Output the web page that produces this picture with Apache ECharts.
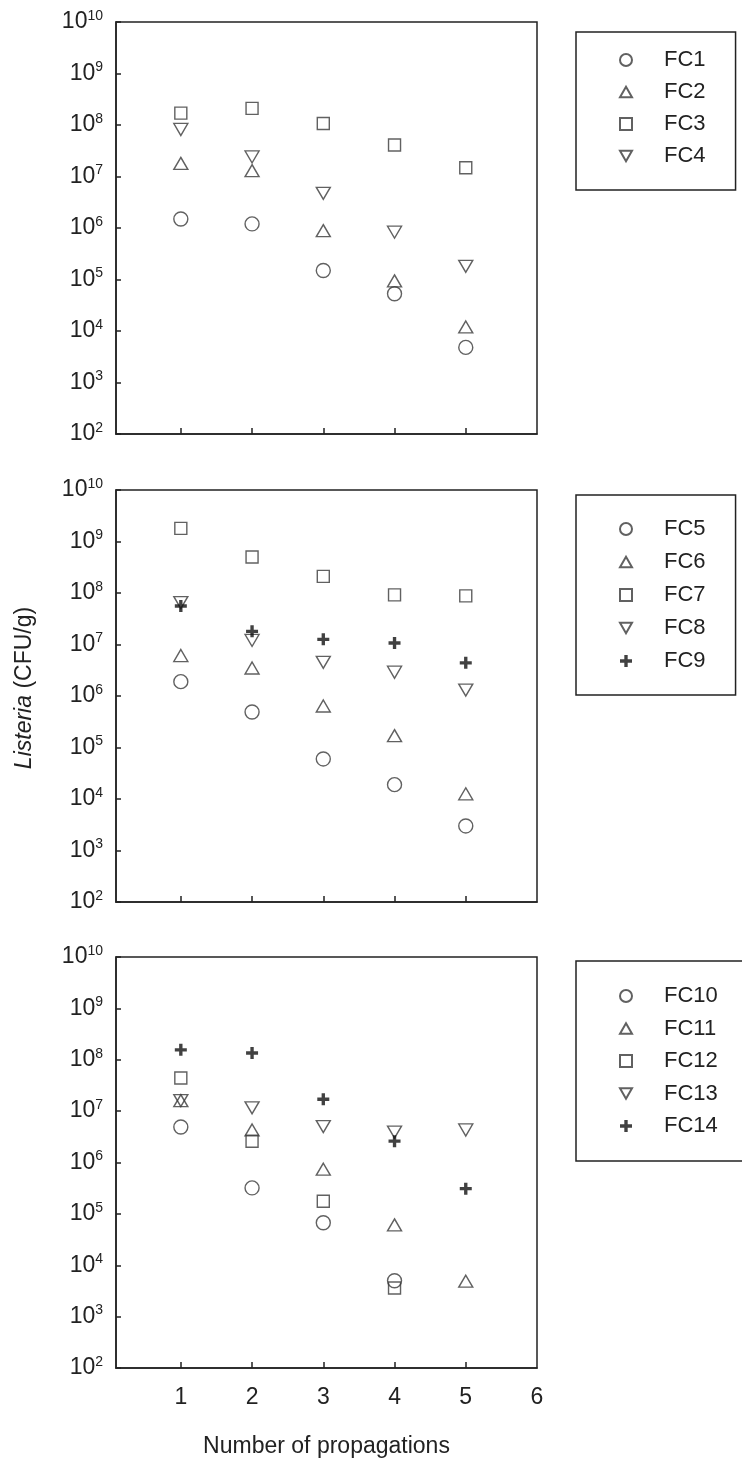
<!DOCTYPE html>
<html>
<head>
<meta charset="utf-8">
<script src="https://cdn.jsdelivr.net/npm/echarts@6/dist/echarts.min.js"></script>
<style>
html,body{margin:0;padding:0;background:#fff;}
#c{width:742px;height:1459px;}
</style>
</head>
<body>
<div id="c"></div>
<script>
// x positions (number of propagations)
const propagations = [1, 2, 3, 4, 5];
const xTickLabels = [1, 2, 3, 4, 5, 6];
// Panel 1
const fc1 = [1.5e6, 1.2e6, 1.5e5, 5.3e4, 4.8e3];
const fc2 = [1.8e7, 1.3e7, 8.9e5, 9.4e4, 1.2e4];
const fc3 = [1.7e8, 2.1e8, 1.07e8, 4.1e7, 1.48e7];
const fc4 = [8.2e7, 2.4e7, 4.7e6, 8.3e5, 1.8e5];
// Panel 2
const fc5 = [1.9e6, 4.9e5, 6.0e4, 1.9e4, 3.0e3];
const fc6 = [6.1e6, 3.5e6, 6.4e5, 1.7e5, 1.26e4];
const fc7 = [1.8e9, 5.0e8, 2.1e8, 9.2e7, 8.8e7];
const fc8 = [6.5e7, 1.2e7, 4.5e6, 2.9e6, 1.3e6];
const fc9 = [5.6e7, 1.8e7, 1.26e7, 1.07e7, 4.4e6];
// Panel 3
const fc10 = [4.9e6, 3.2e5, 6.7e4, 5.0e3, null];
const fc11 = [1.6e7, 4.3e6, 7.4e5, 6.1e4, 4.9e3];
const fc12 = [4.4e7, 2.6e6, 1.76e5, 3.6e3, null];
const fc13 = [1.6e7, 1.16e7, 5.0e6, 3.9e6, 4.3e6];
const fc14 = [1.56e8, 1.35e8, 1.7e7, 2.6e6, 3.1e5];

const panels = [
  {names: ['FC1', 'FC2', 'FC3', 'FC4'], values: [fc1, fc2, fc3, fc4]},
  {names: ['FC5', 'FC6', 'FC7', 'FC8', 'FC9'], values: [fc5, fc6, fc7, fc8, fc9]},
  {names: ['FC10', 'FC11', 'FC12', 'FC13', 'FC14'], values: [fc10, fc11, fc12, fc13, fc14]}
];

const FONT = 'Liberation Sans, Arial, Helvetica, sans-serif';
const INK = '#222';
const MARK = '#3a3a3a';

const markerDefs = [
  {symbol: 'circle', size: 14, fill: false},
  {symbol: 'path://M5,0L10,8.66L0,8.66Z', size: [14, 12], fill: false},
  {symbol: 'path://M0,0H10V10H0Z', size: 12, fill: false},
  {symbol: 'path://M0,0L10,0L5,8.66Z', size: [14, 12], fill: false},
  {symbol: 'path://M3.6,0H6.4V3.6H10V6.4H6.4V10H3.6V6.4H0V3.6H3.6Z', size: 12, fill: true}
];

const gridTops = [22, 490, 957];
const grids = gridTops.map(t => ({
  left: 116, right: 205, top: t, height: 412,
  show: true, borderColor: INK, borderWidth: 1.5, backgroundColor: 'transparent'
}));

const xAxes = gridTops.map((t, i) => ({
  type: 'value', gridIndex: i, min: 0.09, max: 6,
  axisLine: {show: true, lineStyle: {color: INK, width: 1.5}},
  axisTick: {show: true, inside: true, length: 6, customValues: propagations, lineStyle: {color: INK, width: 1.5}},
  axisLabel: {show: i === 2, customValues: xTickLabels, fontSize: 23, fontFamily: FONT, color: INK, margin: 18},
  splitLine: {show: false},
  name: i === 2 ? 'Number of propagations' : '',
  nameLocation: 'middle', nameGap: 67,
  nameTextStyle: {fontSize: 23, fontFamily: FONT, color: INK}
}));

const yAxes = gridTops.map((t, i) => ({
  type: 'log', logBase: 10, gridIndex: i, min: 1e2, max: 1e10, splitNumber: 8,
  axisLine: {show: true, lineStyle: {color: INK, width: 1.5}},
  axisTick: {show: true, inside: true, length: 5, lineStyle: {color: INK, width: 1.5}},
  axisLabel: {
    margin: 13,
    formatter: v => '{b|10}{s|' + Math.round(Math.log10(v)) + '}',
    rich: {
      b: {fontSize: 23, fontFamily: FONT, color: INK, lineHeight: 26, verticalAlign: 'middle'},
      s: {fontSize: 14, fontFamily: FONT, color: INK, lineHeight: 15, verticalAlign: 'top'}
    }
  },
  splitLine: {show: false},
  name: i === 1 ? '{i|Listeria} (CFU/g)' : '',
  nameLocation: 'middle', nameGap: 80,
  nameTextStyle: {
    fontSize: 23, fontFamily: FONT, color: INK, padding: [0, 0, 0, 16],
    rich: {i: {fontSize: 23, fontFamily: FONT, color: INK, fontStyle: 'italic'}}
  }
}));

const series = [];
panels.forEach((p, gi) => {
  p.names.forEach((name, si) => {
    const m = markerDefs[si];
    const vals = p.values[si];
    series.push({
      type: 'scatter', name: name, xAxisIndex: gi, yAxisIndex: gi,
      symbol: m.symbol, symbolSize: m.size,
      z: m.fill ? 4 : 3,
      itemStyle: m.fill
        ? {color: '#111', borderWidth: 0}
        : {color: 'rgba(0,0,0,0)', borderColor: MARK, borderWidth: 1.4},
      data: propagations.map((x, k) => [x, vals[k]]).filter(d => d[1] != null)
    });
  });
});

const legendBase = {
  orient: 'vertical', left: 576, itemWidth: 12, itemHeight: 12,
  borderColor: INK, borderWidth: 1.5, backgroundColor: '#fff',
  formatter: n => '{g|}' + n,
  textStyle: {fontSize: 22, fontFamily: FONT, color: INK, lineHeight: 20,
    rich: {g: {width: 27, fontSize: 22, lineHeight: 20}}},
  selectedMode: false
};
const legends = [
  Object.assign({}, legendBase, {top: 32, data: panels[0].names, itemGap: 10, padding: [17, 30, 23, 43]}),
  Object.assign({}, legendBase, {top: 495, data: panels[1].names, itemGap: 11, padding: [23, 30, 23, 43]}),
  Object.assign({}, legendBase, {top: 961, data: panels[2].names, itemGap: 10.5, padding: [24, 40, 24, 43]})
];

const chart = echarts.init(document.getElementById('c'), null, {renderer: 'canvas'});
chart.setOption({
  backgroundColor: '#fff',
  animation: false,
  grid: grids,
  xAxis: xAxes,
  yAxis: yAxes,
  legend: legends,
  series: series
});
</script>
</body>
</html>
